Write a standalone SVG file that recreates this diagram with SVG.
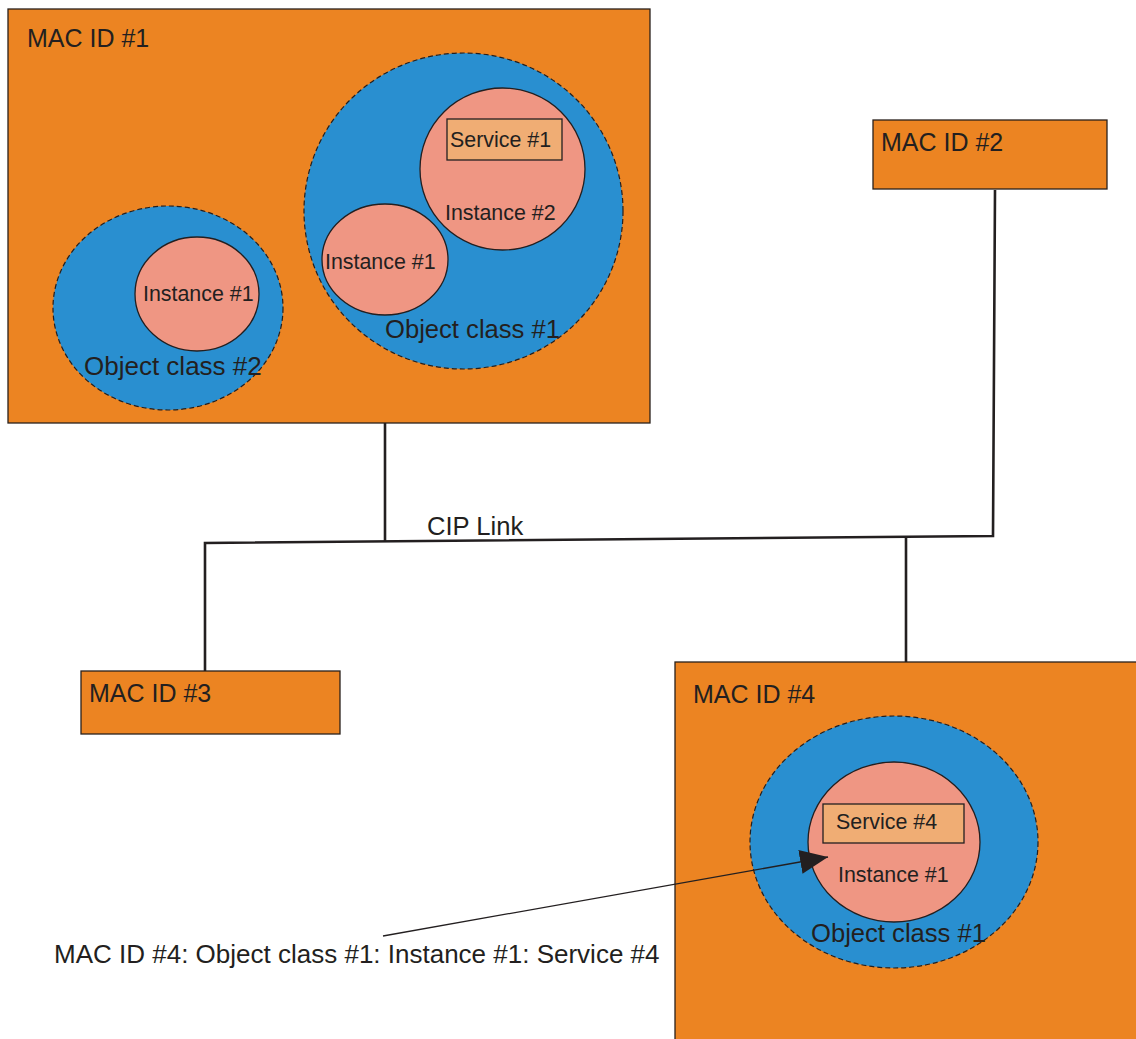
<svg xmlns="http://www.w3.org/2000/svg" width="1136" height="1039" viewBox="0 0 1136 1039">
<style>
  .dev{fill:#EC8422;stroke:#2a211c;stroke-width:1.3}
  .cls{fill:#298FD0;stroke:#231F20;stroke-width:1.2;stroke-dasharray:5 3}
  .inst{fill:#EF9683;stroke:#231F20;stroke-width:1.3}
  .svc{fill:#F0AD74;stroke:#231F20;stroke-width:1.3}
  text{font-family:"Liberation Sans",Arial,sans-serif;fill:#231F20}
  .big{font-size:25px}
  .oc{font-size:25.6px}
  .lg{font-size:26px}
  .sm{font-size:21.4px}
  .link{fill:none;stroke:#231F20;stroke-width:2.6}
  .arr{fill:none;stroke:#231F20;stroke-width:1.3}
</style>
<defs>
  <marker id="ah" markerUnits="userSpaceOnUse" markerWidth="30" markerHeight="26" refX="28" refY="12" orient="auto">
    <path d="M0,0 L28,12 L0,24 Z" fill="#231F20"/>
  </marker>
</defs>
<rect width="1136" height="1039" fill="#ffffff"/>

<g id="mac1">
  <rect class="dev" x="8" y="9" width="642" height="414"/>
  <text class="big" x="27" y="47">MAC ID #1</text>
  <g id="mac1-class2">
    <ellipse class="cls" cx="168" cy="308" rx="115" ry="102"/>
    <g id="mac1-class2-inst1">
      <ellipse class="inst" cx="197" cy="294" rx="62" ry="57"/>
      <text class="sm" x="143" y="301">Instance #1</text>
    </g>
    <text class="lg" x="84" y="375">Object class #2</text>
  </g>
  <g id="mac1-class1">
    <ellipse class="cls" cx="463.5" cy="211" rx="159.5" ry="158"/>
    <g id="mac1-class1-inst2">
      <ellipse class="inst" cx="502.5" cy="169" rx="82.5" ry="81"/>
      <rect class="svc" x="447" y="119" width="115" height="41"/>
      <text class="sm" x="450" y="147">Service #1</text>
      <text class="sm" x="445" y="220">Instance #2</text>
    </g>
    <g id="mac1-class1-inst1">
      <ellipse class="inst" cx="385" cy="259.5" rx="63" ry="55.5"/>
      <text class="sm" x="325" y="269">Instance #1</text>
    </g>
    <text class="oc" x="385" y="338">Object class #1</text>
  </g>
</g>

<g id="mac2">
  <rect class="dev" x="873" y="120" width="234" height="69"/>
  <text class="big" x="881" y="151">MAC ID #2</text>
</g>

<g id="mac3">
  <rect class="dev" x="81" y="671" width="259" height="63"/>
  <text class="big" x="89" y="702">MAC ID #3</text>
</g>

<g id="mac4">
  <rect class="dev" x="675" y="662" width="470" height="400"/>
  <text class="big" x="693" y="703">MAC ID #4</text>
  <g id="mac4-class1">
    <ellipse class="cls" cx="894" cy="842" rx="144" ry="126"/>
    <g id="mac4-class1-inst1">
      <ellipse class="inst" cx="894" cy="842" rx="86" ry="80"/>
      <rect class="svc" x="823" y="804" width="141" height="39"/>
      <text class="sm" x="836" y="829">Service #4</text>
      <text class="sm" x="838" y="882">Instance #1</text>
    </g>
    <text class="oc" x="811" y="942">Object class #1</text>
  </g>
</g>

<g id="path-label">
  <text class="lg" x="54" y="963">MAC ID #4: Object class #1: Instance #1: Service #4</text>
</g>
<text class="oc" x="427" y="535">CIP Link</text>

<g id="connectors">
  <polyline class="link" points="205,671 205,543 993,536 995,190"/>
  <line class="link" x1="385" y1="423" x2="385" y2="541.5"/>
  <line class="link" x1="906" y1="537" x2="906" y2="662"/>
  <line class="arr" x1="383" y1="936" x2="828" y2="857" marker-end="url(#ah)"/>
</g>
</svg>
